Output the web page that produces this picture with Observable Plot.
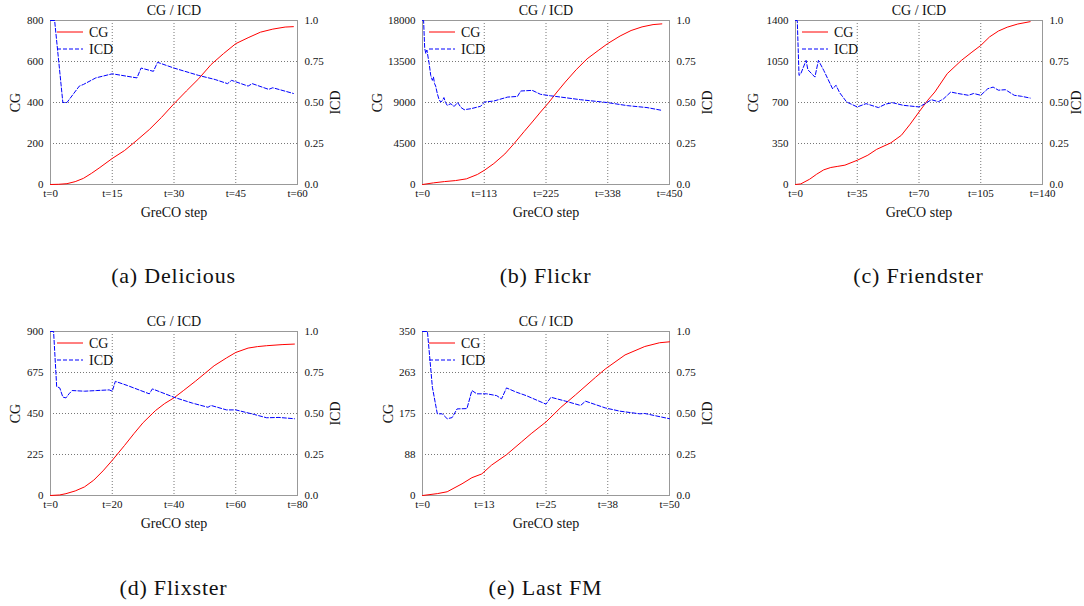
<!DOCTYPE html>
<html><head><meta charset="utf-8">
<script src="https://cdn.jsdelivr.net/npm/d3@7"></script>
<script src="https://cdn.jsdelivr.net/npm/@observablehq/plot@0.6"></script>
<style>
body{margin:0;background:#fff;width:1084px;height:606px;position:relative;overflow:hidden;font-family:"Liberation Serif","DejaVu Serif",serif}
.panel{position:absolute}
.cap{position:absolute;font-family:"Liberation Serif","DejaVu Serif",serif;font-size:22px;line-height:22px;letter-spacing:0.8px;transform:translateX(-50%);white-space:nowrap;color:#111}
</style></head><body>
<script>
// ---- shared labels ----
const icdTicks = [0, 0.25, 0.5, 0.75, 1];
const icdLabels = ["0.0", "0.25", "0.50", "0.75", "1.0"];

// ---- (a) Delicious ----
const delSteps = [0,2,4,6,8,10,12,15,18,21,24,27,30,33,36,39,42,45,48,51,54,57,59];
const delCG    = [0,1,4,14,30,55,83,127,166,216,268,328,394,456,516,585,638,687,716,743,758,768,770];
const delICDSteps = [0,1,3,4,7,8,11,15,21,22,25,26,30,36,40,43,44,48,49,53,54,59];
const delICD      = [1,1,0.5,0.5,0.6,0.61,0.65,0.675,0.65,0.71,0.69,0.745,0.71,0.665,0.64,0.615,0.635,0.6,0.615,0.58,0.59,0.555];
const delCGTicks = [0,200,400,600,800];
const delCGLabels = ["0","200","400","600","800"];
const delXTicks = [0,15,30,45,60];
const delXLabels = ["t=0","t=15","t=30","t=45","t=60"];

// ---- (b) Flickr ----
const flkSteps = [0,20,40,60,80,100,113,130,150,167,185,200,215,230,245,260,280,300,320,337,360,380,400,420,436];
const flkCG    = [0,180,320,430,620,1100,1570,2300,3350,4500,5800,6860,7950,9000,10150,11240,12600,13800,14700,15450,16300,16900,17300,17550,17630];
const flkICDSteps = [0,2,4,6,8,12,15,18,20,22,24,27,30,33,36,39,42,45,52,55,58,64,70,76,88,106,113,130,155,173,179,200,215,233,252,288,336,373,409,436];
const flkICD      = [1,1,0.83,0.80,0.82,0.74,0.665,0.635,0.655,0.615,0.60,0.554,0.52,0.503,0.51,0.53,0.50,0.483,0.493,0.48,0.477,0.50,0.47,0.456,0.462,0.477,0.503,0.509,0.533,0.537,0.57,0.574,0.55,0.541,0.533,0.517,0.50,0.481,0.469,0.452];
const flkCGTicks = [0,4500,9000,13500,18000];
const flkCGLabels = ["0","4500","9000","13500","18000"];
const flkXTicks = [0,112.5,225,337.5,450];
const flkXLabels = ["t=0","t=113","t=225","t=338","t=450"];

// ---- (c) Friendster ----
const frdSteps = [0,3,8,12,16,20,24,28,35,41,46,54,60,65,70,75,79,86,94,100,105,110,115,120,126,133];
const frdCG    = [0,5,45,88,125,145,155,165,207,250,300,355,420,515,619,720,790,946,1059,1130,1187,1260,1310,1343,1370,1390];
const frdICDSteps = [0,1,2,3,6,7,11,13,16,21,23,25,29,35,40,47,51,55,61,70,73,77,81,84,88,92,98,101,105,109,112,115,119,124,128,133];
const frdICD      = [1,1,0.665,0.675,0.757,0.70,0.655,0.757,0.696,0.584,0.605,0.56,0.503,0.473,0.493,0.469,0.49,0.499,0.483,0.473,0.49,0.517,0.505,0.523,0.564,0.555,0.544,0.555,0.544,0.584,0.594,0.575,0.578,0.544,0.538,0.527];
const frdCGTicks = [0,350,700,1050,1400];
const frdCGLabels = ["0","350","700","1050","1400"];
const frdXTicks = [0,35,70,105,140];
const frdXLabels = ["t=0","t=35","t=70","t=105","t=140"];

// ---- (d) Flixster ----
const flxSteps = [0,3,5,8,11,14,17,20,24,27,30,34,37,40,43,47,50,53,57,60,64,67,70,75,79];
const flxCG    = [0,3,10,25,47,84,135,193,275,339,400,466,505,536,575,628,670,712,755,785,809,817,822,828,831];
const flxICDSteps = [0,1,2,3,4,5,6,7,11,15,19,20,21,25,32,33,40,46,51,52,57,60,66,70,74,79];
const flxICD      = [1,1,0.664,0.656,0.60,0.595,0.62,0.64,0.636,0.64,0.644,0.636,0.696,0.67,0.62,0.65,0.599,0.563,0.538,0.549,0.522,0.522,0.494,0.474,0.476,0.468];
const flxCGTicks = [0,225,450,675,900];
const flxCGLabels = ["0","225","450","675","900"];
const flxXTicks = [0,20,40,60,80];
const flxXLabels = ["t=0","t=20","t=40","t=60","t=80"];

// ---- (e) Last FM ----
const lfmSteps = [0,3,5,8,10,12,14,17,20,22,25,28,31,35,37,41,45,48,50];
const lfmCG    = [0,4,8,25,38,46,65,87,114,132,157,188,215,252,270,300,318,326,328];
const lfmICDSteps = [0,1,2,3,4,5,6,7,9,10,11,13,15,16,17,19,21,25,26,29,32,33,37,40,44,45,50];
const lfmICD      = [1,1,0.66,0.498,0.498,0.468,0.475,0.528,0.53,0.64,0.62,0.62,0.609,0.589,0.656,0.63,0.609,0.557,0.599,0.575,0.549,0.575,0.534,0.514,0.498,0.50,0.468];
const lfmCGTicks = [0,87.5,175,262.5,350];
const lfmCGLabels = ["0","88","175","263","350"];
const lfmXTicks = [0,12.5,25,37.5,50];
const lfmXLabels = ["t=0","t=13","t=25","t=38","t=50"];

const titleText = "CG / ICD";
const xLabelText = "GreCO step";
const cgName = "CG", icdName = "ICD";
const FONT = "'Liberation Serif', 'DejaVu Serif', serif";

function panel(o) {
  const cgMax = o.cgTicks[o.cgTicks.length - 1];
  const xMax = o.xTicks[o.xTicks.length - 1];
  const cgData = o.steps.map((t, i) => ({t, v: o.cg[i]}));
  const icdData = o.icdSteps.map((t, i) => ({t, v: o.icd[i] * cgMax}));
  const icdPos = icdTicks.map(v => v * cgMax);
  const grid = {stroke: "#777", strokeOpacity: 1, strokeDasharray: "1,2", strokeWidth: 1};
  const svg = Plot.plot({
    width: o.width, height: 230,
    marginLeft: o.ml, marginRight: o.mr, marginTop: o.mt, marginBottom: 230 - o.mt - 164,
    style: {fontFamily: FONT, fontSize: "11px", background: "transparent", color: "#111"},
    x: {domain: [0, xMax]},
    y: {domain: [0, cgMax]},
    marks: [
      Plot.gridX(o.xTicks.slice(1, -1), grid),
      Plot.gridY(o.cgTicks.slice(1, -1), grid),
      Plot.frame({stroke: "#999"}),
      Plot.axisX(o.xTicks, {tickSize: 0, tickPadding: 5, label: null, tickFormat: d => o.xLabels[o.xTicks.indexOf(d)]}),
      Plot.axisY(o.cgTicks, {anchor: "left", tickSize: 0, tickPadding: 7, label: null, tickFormat: d => o.cgLabels[o.cgTicks.indexOf(d)]}),
      Plot.axisY(icdPos, {anchor: "right", tickSize: 0, tickPadding: 7, label: null, tickFormat: d => icdLabels[icdPos.indexOf(d)]}),
      Plot.line(cgData, {x: "t", y: "v", stroke: "#ff0000", strokeWidth: 1}),
      Plot.line(icdData, {x: "t", y: "v", stroke: "#0000ff", strokeWidth: 1, strokeDasharray: "4,2"}),
      Plot.text([titleText], {text: d => d, frameAnchor: "top", dy: -10, lineAnchor: "middle", fontSize: 14}),
      Plot.text([xLabelText], {text: d => d, frameAnchor: "bottom", dy: 28, lineAnchor: "middle", fontSize: 14}),
      Plot.text([cgName], {text: d => d, frameAnchor: "left", dx: -o.cgOff, rotate: -90, textAnchor: "middle", lineAnchor: "middle", fontSize: 14}),
      Plot.text([icdName], {text: d => d, frameAnchor: "right", dx: o.icdOff, rotate: -90, textAnchor: "middle", lineAnchor: "middle", fontSize: 14})
    ]
  });
  // legend keys
  const s = d3.select(svg);
  const g = s.append("g").attr("font-family", FONT).attr("font-size", 14).attr("text-anchor", "start");
  [[cgName, "#ff0000", null, 12], [icdName, "#0000ff", "4,2", 29]].forEach(([name, col, dash, dy]) => {
    g.append("line").attr("x1", o.ml + 7).attr("x2", o.ml + 33).attr("y1", o.mt + dy).attr("y2", o.mt + dy)
      .attr("stroke", col).attr("stroke-dasharray", dash);
    g.append("text").attr("x", o.ml + 39).attr("y", o.mt + dy).attr("dy", "0.35em").attr("fill", "#111").text(name);
  });
  const div = document.createElement("div");
  div.className = "panel";
  div.style.left = o.left + "px";
  div.style.top = o.top + "px";
  div.appendChild(svg);
  document.body.appendChild(div);
  const cap = document.createElement("div");
  cap.className = "cap";
  cap.textContent = o.caption;
  cap.style.left = (o.left + o.ml + 123.5) + "px";
  cap.style.top = o.capTop + "px";
  document.body.appendChild(cap);
}

panel({left: 0, top: 0, width: 360, ml: 50, mr: 63, mt: 20, cgOff: 35, icdOff: 38, capTop: 265, caption: "(a) Delicious",
  steps: delSteps, cg: delCG, icdSteps: delICDSteps, icd: delICD, cgTicks: delCGTicks, cgLabels: delCGLabels, xTicks: delXTicks, xLabels: delXLabels});
panel({left: 360, top: 0, width: 360, ml: 62, mr: 51, mt: 20, cgOff: 45, icdOff: 38, capTop: 265, caption: "(b) Flickr",
  steps: flkSteps, cg: flkCG, icdSteps: flkICDSteps, icd: flkICD, cgTicks: flkCGTicks, cgLabels: flkCGLabels, xTicks: flkXTicks, xLabels: flkXLabels});
panel({left: 720, top: 0, width: 364, ml: 75, mr: 42, mt: 20, cgOff: 42, icdOff: 34, capTop: 265, caption: "(c) Friendster",
  steps: frdSteps, cg: frdCG, icdSteps: frdICDSteps, icd: frdICD, cgTicks: frdCGTicks, cgLabels: frdCGLabels, xTicks: frdXTicks, xLabels: frdXLabels});
panel({left: 0, top: 310, width: 360, ml: 50, mr: 63, mt: 21, cgOff: 35, icdOff: 38, capTop: 577, caption: "(d) Flixster",
  steps: flxSteps, cg: flxCG, icdSteps: flxICDSteps, icd: flxICD, cgTicks: flxCGTicks, cgLabels: flxCGLabels, xTicks: flxXTicks, xLabels: flxXLabels});
panel({left: 360, top: 310, width: 360, ml: 62, mr: 51, mt: 21, cgOff: 34, icdOff: 38, capTop: 577, caption: "(e) Last FM",
  steps: lfmSteps, cg: lfmCG, icdSteps: lfmICDSteps, icd: lfmICD, cgTicks: lfmCGTicks, cgLabels: lfmCGLabels, xTicks: lfmXTicks, xLabels: lfmXLabels});
</script>
</body></html>
